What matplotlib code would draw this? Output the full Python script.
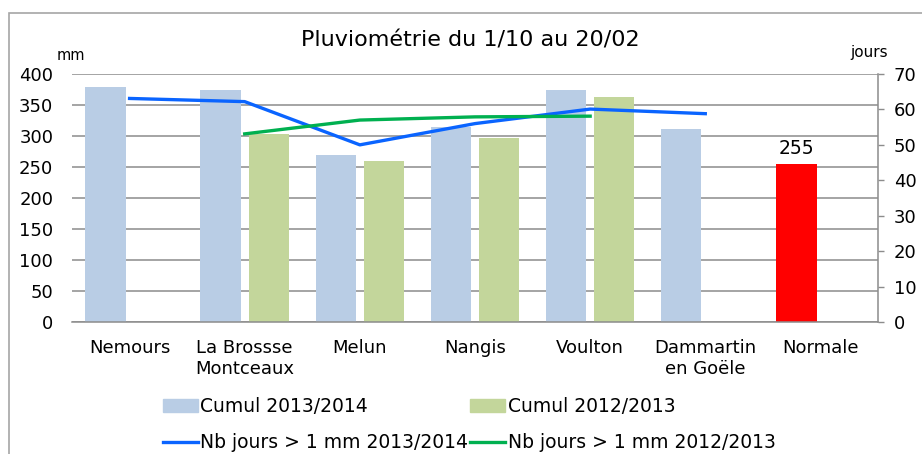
import numpy as np
import matplotlib
matplotlib.use("Agg")
import matplotlib.pyplot as plt
from matplotlib.patches import Rectangle, Patch
from matplotlib.lines import Line2D

plt.rcParams['font.family'] = ['DejaVu Sans']

categories = ["Nemours", "La Brossse\nMontceaux", "Melun", "Nangis", "Voulton",
              "Dammartin\nen Goële", "Normale"]
cumul_2013_2014 = [379, 374, 269, 314, 374, 311, 255]
cumul_2012_2013 = [np.nan, 304, 260, 296, 363, np.nan, np.nan]
jours_2013_2014 = [63.1, 62.2, 50.0, 56.0, 60.1, 58.8, np.nan]
jours_2012_2013 = [np.nan, 53.1, 57.0, 57.9, 58.1, np.nan, np.nan]
normale_label = "255"

title = "Pluviométrie du 1/10 au 20/02"
left_ticks = list(range(0, 401, 50))
right_ticks = list(range(0, 71, 10))

c_blue_bar = "#b9cde5"
c_green_bar = "#c3d69b"
c_red = "#ff0000"
c_blue_line = "#0a64ff"
c_green_line = "#00b050"
c_grid = "#8c8c8c"

W, H = 922, 454
fig = plt.figure(figsize=(W / 100, H / 100), dpi=100)

# outer chart border
fig.patches.append(Rectangle((9 / W, -0.1), 1.2, 1 - 13 / H + 0.1, transform=fig.transFigure,
                             fill=False, edgecolor="#a6a6a6", linewidth=1.2))

ax = fig.add_axes([72 / W, 1 - 322 / H, (878 - 72) / W, (322 - 74) / H])
x = np.arange(len(categories))
bw = 0.35
off = 0.209
colors1 = [c_blue_bar] * (len(categories) - 1) + [c_red]
ax.bar(x - off, cumul_2013_2014, width=bw, color=colors1, zorder=2)
ax.bar(x + off, cumul_2012_2013, width=bw, color=c_green_bar, zorder=2)

ax.set_xlim(-0.5, len(categories) - 0.5)
ax.set_ylim(0, 400)
ax.set_yticks(left_ticks)
ax.yaxis.grid(True, color=c_grid, linewidth=1.1, zorder=0)
ax.set_axisbelow(True)
for s in ["left", "top", "right"]:
    ax.spines[s].set_visible(False)
ax.spines["bottom"].set_color(c_grid)
ax.spines["bottom"].set_linewidth(1.1)
ax.tick_params(axis="y", length=0, pad=13.5, labelsize=13)
ax.tick_params(axis="x", length=0, pad=12, labelsize=13)
ax.set_xticks(x)
ax.set_xticklabels(categories, linespacing=1.25)

ax.text(x[-1] - off, cumul_2013_2014[-1] + 9, normale_label, ha="center", va="bottom",
        fontsize=13.5)

ax2 = ax.twinx()
ax2.set_ylim(0, 70)
ax2.set_yticks(right_ticks)
ax2.plot(x, jours_2013_2014, color=c_blue_line, linewidth=2.4, zorder=3)
ax2.plot(x, jours_2012_2013, color=c_green_line, linewidth=2.4, zorder=3)
for s in ["left", "top", "bottom"]:
    ax2.spines[s].set_visible(False)
ax2.spines["right"].set_color(c_grid)
ax2.spines["right"].set_linewidth(1.1)
ax2.tick_params(axis="y", direction="out", length=4.5, width=1, color=c_grid,
                pad=7, labelsize=13)

fig.text(470 / W, 1 - 40 / H, title, ha="center", va="center", fontsize=16)
fig.text(71 / W, 1 - 55 / H, "mm", ha="center", va="center", fontsize=10.5)
fig.text(869 / W, 1 - 52 / H, "jours", ha="center", va="center", fontsize=11)

handles = [Patch(color=c_blue_bar), Line2D([], [], color=c_blue_line, lw=2.4),
           Patch(color=c_green_bar), Line2D([], [], color=c_green_line, lw=2.4)]
labels = ["Cumul 2013/2014", "Nb jours > 1 mm 2013/2014",
          "Cumul 2012/2013", "Nb jours > 1 mm 2012/2013"]
fig.legend(handles, labels, loc="upper left", bbox_to_anchor=(163 / W, 1 - 397 / H),
           ncol=2, frameon=False, fontsize=13.5, borderpad=0, borderaxespad=0,
           handlelength=1.87, handleheight=0.65, handletextpad=0.12,
           columnspacing=0.1, labelspacing=0.92)

fig.savefig("out.png", dpi=100)
